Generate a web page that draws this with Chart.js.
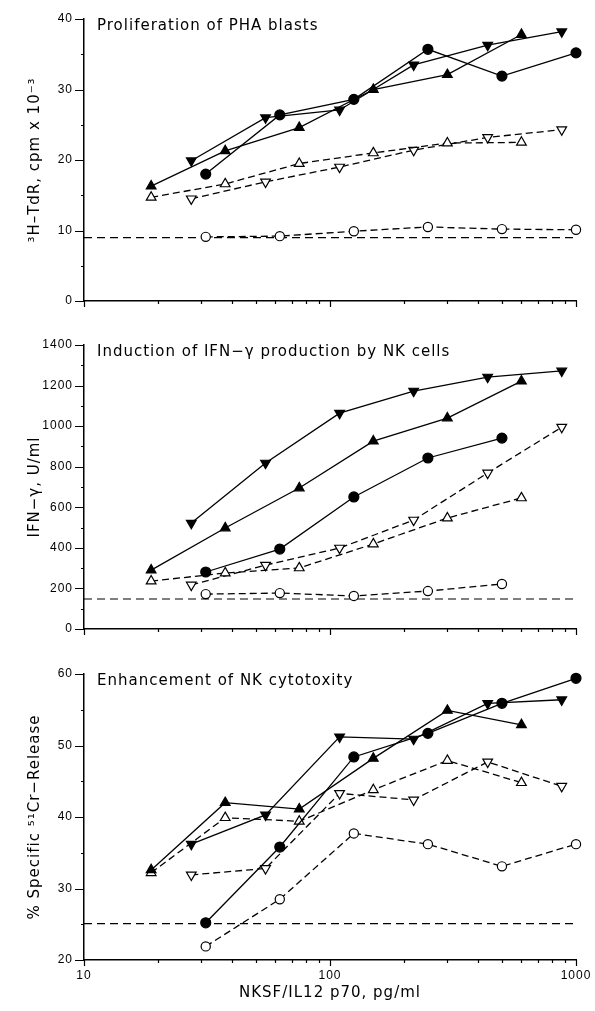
<!DOCTYPE html>
<html>
<head>
<meta charset="utf-8">
<script src="https://cdn.jsdelivr.net/npm/chart.js@4.4.0/dist/chart.umd.min.js"></script>
<style>
  html, body { margin: 0; padding: 0; background: #fff; }
  #wrap { position: relative; width: 595px; height: 1011px; }
  canvas { position: absolute; left: 0; }
</style>
</head>
<body>
<div id="wrap">
  <canvas id="prol" width="595" height="320" style="top:0"></canvas>
  <canvas id="ifn" width="595" height="320" style="top:320px"></canvas>
  <canvas id="cyto" width="595" height="371" style="top:640px"></canvas>
</div>
<script>
// doses (pg/ml) for the three dilution series
const doseCircle = [31.25, 62.5, 125, 250, 500, 1000];
const doseUp     = [18.75, 37.5, 75, 150, 300, 600];
const doseDown   = [27.3, 54.7, 109.4, 218.8, 437.5, 875];
const doseRange  = [10, 1000];

const xTickValues = [10, 20, 30, 40, 50, 60, 70, 80, 90, 100, 200, 300, 400, 500, 600, 700, 800, 900, 1000];
const xTickLabels = [10, 100, 1000];

// proliferation of PHA blasts, cpm x 10^-3
const prolFilledCircle = [18.0, 26.4, 28.6, 35.7, 31.9, 35.2];
const prolOpenCircle   = [9.1, 9.2, 9.9, 10.5, 10.2, 10.1];
const prolFilledUp     = [16.3, 21.3, 24.6, 30.0, 32.1, 37.8];
const prolOpenUp       = [14.7, 16.6, 19.5, 21.0, 22.4, 22.5];
const prolFilledDown   = [19.9, 26.0, 27.1, 33.5, 36.3, 38.2];
const prolOpenDown     = [14.5, 16.9, 19.0, 21.4, 23.2, 24.3];
const prolBaseline     = [9.0, 9.0];
const prolTicks  = [0, 5, 10, 15, 20, 25, 30, 35, 40];
const prolLabels = [0, 10, 20, 30, 40];

// IFN-gamma production, U/ml
const ifnFilledCircle = [281, 394, 651, 843, 941];
const ifnOpenCircle   = [172, 177, 163, 187, 222];
const ifnFilledUp     = [290, 498, 695, 926, 1040, 1222];
const ifnOpenUp       = [236, 276, 301, 419, 547, 646];
const ifnFilledDown   = [522, 818, 1064, 1173, 1242, 1272];
const ifnOpenDown     = [217, 315, 399, 537, 769, 995];
const ifnBaseline     = [148, 148];
const ifnTicks  = [0, 100, 200, 300, 400, 500, 600, 700, 800, 900, 1000, 1100, 1200, 1300, 1400];
const ifnLabels = [0, 200, 400, 600, 800, 1000, 1200, 1400];

// NK cytotoxicity, % specific 51Cr release
const cytoFilledCircle = [25.2, 35.8, 48.4, 51.7, 55.9, 59.4];
const cytoOpenCircle   = [21.9, 28.5, 37.7, 36.2, 33.1, 36.2];
const cytoFilledUp     = [32.6, 42.0, 41.1, 48.2, 54.9, 52.9];
const cytoOpenUp       = [32.2, 39.9, 39.4, 43.8, 47.9, 44.8];
const cytoFilledDown   = [36.2, 40.3, 51.2, 50.9, 55.9, 56.4];
const cytoOpenDown     = [31.9, 32.8, 43.3, 42.4, 47.7, 44.3];
const cytoBaseline     = [25.1, 25.1];
const cytoTicks  = [20, 25, 30, 35, 40, 45, 50, 55, 60];
const cytoLabels = [20, 30, 40, 50, 60];

function pts(xs, ys) {
    return ys.map((y, i) => ({ x: xs[i], y: y }));
}

// marker: 'circle', 'up', 'down' ; filled => black, else white
function series(xs, ys, marker, filled, dashed) {
    return {
        data: pts(xs, ys),
        borderColor: '#000',
        borderWidth: 1.3,
        borderDash: dashed ? [7, 4] : [],
        tension: 0,
        fill: false,
        clip: false,
        pointStyle: marker === 'circle' ? 'circle' : 'triangle',
        pointRotation: marker === 'down' ? 180 : 0,
        pointRadius: marker === 'circle' ? (filled ? 5 : 4.6) : 5.6,
        pointBackgroundColor: filled ? '#000' : '#fff',
        pointBorderColor: '#000',
        pointBorderWidth: 1.2
    };
}

function baseline(ys) {
    return {
        data: pts(doseRange, ys),
        borderColor: '#000',
        borderWidth: 1.2,
        borderDash: [8, 5],
        pointRadius: 0,
        fill: false,
        clip: false
    };
}

const spacing = {
    id: 'spacing',
    beforeDraw(chart) {
        if ('letterSpacing' in chart.ctx) chart.ctx.letterSpacing = '1px';
    }
};

const panelTitle = {
    id: 'panelTitle',
    afterDraw(chart, args, opts) {
        const ctx = chart.ctx;
        const a = chart.chartArea;
        ctx.save();
        ctx.fillStyle = '#000';
        ctx.font = '15px "DejaVu Sans"';
        ctx.textBaseline = 'alphabetic';
        ctx.textAlign = 'left';
        ctx.fillText(opts.text, a.left + 13, a.top + 11);
        ctx.restore();
    }
};

const tickMarks = {
    id: 'tickMarks',
    afterDraw(chart, args, opts) {
        const ctx = chart.ctx;
        const xs = chart.scales.x, ys = chart.scales.y;
        ctx.save();
        ctx.strokeStyle = '#000';
        ctx.lineWidth = 1.2;
        ctx.beginPath();
        xTickValues.forEach(v => {
            const px = Math.round(xs.getPixelForValue(v)) + 0.5;
            const len = xTickLabels.includes(v) ? 6 : 3;
            ctx.moveTo(px, xs.top);
            ctx.lineTo(px, xs.top + len);
        });
        opts.yTicks.forEach(v => {
            const py = Math.round(ys.getPixelForValue(v)) + 0.5;
            const len = opts.yLabels.includes(v) ? 9 : 3;
            ctx.moveTo(ys.right, py);
            ctx.lineTo(ys.right - len, py);
        });
        ctx.stroke();
        ctx.restore();
    }
};

function makeChart(id, cfg) {
    return new Chart(document.getElementById(id), {
        type: 'line',
        data: { datasets: cfg.datasets },
        options: {
            responsive: false,
            animation: false,
            events: [],
            layout: { padding: { left: 0, right: 19, top: cfg.top, bottom: 0 } },
            plugins: {
                legend: { display: false },
                tooltip: { enabled: false },
                panelTitle: { text: cfg.title },
                tickMarks: { yTicks: cfg.yTicks, yLabels: cfg.yLabels }
            },
            scales: {
                x: {
                    type: 'logarithmic',
                    min: 10,
                    max: 1000,
                    afterBuildTicks: s => { s.ticks = xTickValues.map(v => ({ value: v })); },
                    afterFit: s => { s.height = cfg.xHeight; },
                    grid: { display: true, drawOnChartArea: false, drawTicks: true, tickLength: 5, tickColor: 'rgba(0,0,0,0)' },
                    border: { display: true, color: '#000', width: 1.5 },
                    ticks: {
                        display: cfg.showX,
                        autoSkip: false,
                        maxRotation: 0,
                        padding: 3,
                        color: '#000',
                        font: { family: '"Liberation Sans", Arial, sans-serif', size: 12 },
                        callback: v => xTickLabels.includes(v) ? String(v) : ''
                    },
                    title: {
                        display: cfg.showX,
                        text: 'NKSF/IL12 p70, pg/ml',
                        color: '#000',
                        font: { family: '"DejaVu Sans", sans-serif', size: 15 },
                        padding: { top: 0, bottom: 9 }
                    }
                },
                y: {
                    min: cfg.yTicks[0],
                    max: cfg.yTicks[cfg.yTicks.length - 1],
                    afterBuildTicks: s => { s.ticks = cfg.yTicks.map(v => ({ value: v })); },
                    afterFit: s => { s.width = 84; },
                    grid: { display: true, drawOnChartArea: false, drawTicks: true, tickLength: 9, tickColor: 'rgba(0,0,0,0)' },
                    border: { display: true, color: '#000', width: 1.5 },
                    ticks: {
                        autoSkip: false,
                        padding: 2,
                        color: '#000',
                        font: { family: '"Liberation Sans", Arial, sans-serif', size: 12 },
                        callback: v => cfg.yLabels.includes(v) ? String(v) : ''
                    },
                    title: {
                        display: true,
                        text: cfg.yTitle,
                        color: '#000',
                        font: { family: '"DejaVu Sans", sans-serif', size: 15 },
                        padding: { top: 26, bottom: 0 }
                    }
                }
            }
        },
        plugins: [spacing, panelTitle, tickMarks]
    });
}

makeChart('prol', {
    title: 'Proliferation of PHA blasts',
    yTitle: '\u00b3H\u2013TdR, cpm x 10\u207b\u00b3',
    top: 19, xHeight: 19, showX: false,
    yTicks: prolTicks, yLabels: prolLabels,
    datasets: [
        series(doseCircle, prolFilledCircle, 'circle', true, false),
        series(doseUp, prolFilledUp, 'up', true, false),
        series(doseDown, prolFilledDown, 'down', true, false),
        series(doseUp, prolOpenUp, 'up', false, true),
        series(doseDown, prolOpenDown, 'down', false, true),
        series(doseCircle, prolOpenCircle, 'circle', false, true),
        baseline(prolBaseline)
    ]
});

makeChart('ifn', {
    title: 'Induction of IFN\u2212\u03b3 production by NK cells',
    yTitle: 'IFN\u2212\u03b3, U/ml',
    top: 25, xHeight: 11, showX: false,
    yTicks: ifnTicks, yLabels: ifnLabels,
    datasets: [
        series(doseCircle.slice(0, 5), ifnFilledCircle, 'circle', true, false),
        series(doseUp, ifnFilledUp, 'up', true, false),
        series(doseDown, ifnFilledDown, 'down', true, false),
        series(doseUp, ifnOpenUp, 'up', false, true),
        series(doseDown, ifnOpenDown, 'down', false, true),
        series(doseCircle.slice(0, 5), ifnOpenCircle, 'circle', false, true),
        baseline(ifnBaseline)
    ]
});

makeChart('cyto', {
    title: 'Enhancement of NK cytotoxity',
    yTitle: '% Specific \u2075\u00b9Cr\u2212Release',
    top: 34, xHeight: 51, showX: true,
    yTicks: cytoTicks, yLabels: cytoLabels,
    datasets: [
        series(doseCircle, cytoFilledCircle, 'circle', true, false),
        series(doseUp, cytoFilledUp, 'up', true, false),
        series(doseDown, cytoFilledDown, 'down', true, false),
        series(doseUp, cytoOpenUp, 'up', false, true),
        series(doseDown, cytoOpenDown, 'down', false, true),
        series(doseCircle, cytoOpenCircle, 'circle', false, true),
        baseline(cytoBaseline)
    ]
});
</script>
</body>
</html>
